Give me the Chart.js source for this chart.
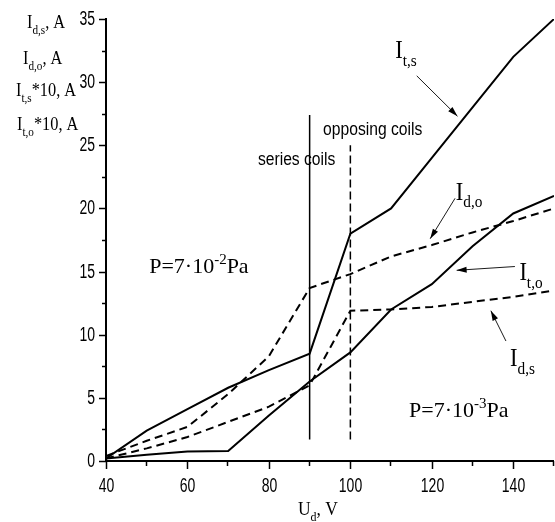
<!DOCTYPE html>
<html>
<head>
<meta charset="utf-8">
<script src="https://cdn.jsdelivr.net/npm/chart.js@4/dist/chart.umd.min.js"></script>
<style>
  html, body { margin: 0; padding: 0; background: #fff; }
  canvas { display: block; }
</style>
</head>
<body>
<canvas id="chart" width="555" height="522"></canvas>
<script>
(() => {
  'use strict';

  // discharge voltage, V
  const U = [40, 50, 60, 70, 80, 90, 100, 110, 120, 130, 140, 150];

  // currents
  const I_ts = [0.2, 2.4, 4.1, 5.8, 7.2, 8.5, 18.0, 20.0, 24.0, 28.0, 32.0, 35.0];
  const I_to = [0.2, 0.5, 0.75, 0.8, 3.6, 6.3, 8.6, 12.0, 14.0, 17.0, 19.6, 21.0];
  const I_do = [0.4, 1.6, 2.7, 5.3, 8.3, 13.7, 14.8, 16.2, 17.1, 18.1, 19.0, 20.0];
  const I_ds = [0.2, 1.0, 1.9, 3.1, 4.3, 6.0, 11.9, 12.0, 12.2, 12.6, 13.0, 13.5];

  // marker lines: coils switched
  const SERIES_X = [90, 90];
  const SERIES_Y = [1.7, 27.4];
  const OPPOSING_X = [100, 100];
  const OPPOSING_Y = [1.7, 25.0];

  const X_TICKS = [40, 60, 80, 100, 120, 140];
  const X_MINOR = [50, 70, 90, 110, 130, 150];
  const Y_TICKS = [0, 5, 10, 15, 20, 25, 30, 35];
  const Y_MINOR = [2.5, 7.5, 12.5, 17.5, 22.5, 27.5, 32.5];

  const SERIF = '"Liberation Serif", "Times New Roman", serif';
  const SANS = '"Liberation Sans", Arial, sans-serif';

  const pts = (xs, ys) => xs.map((x, i) => ({ x, y: ys[i] }));

  // rich text: [text, 'n' | 'sub' | 'sup'], sx = horizontal squeeze
  function rich(ctx, parts, x, y, size, sx = 1) {
    ctx.save();
    ctx.translate(x, y);
    ctx.scale(sx, 1);
    let cx = 0;
    parts.forEach(([t, mode]) => {
      const s = mode === 'n' ? size : Math.round(size * 0.68);
      const dy = mode === 'sub' ? size * 0.3 : mode === 'sup' ? -size * 0.42 : 0;
      ctx.font = `${s}px ${SERIF}`;
      ctx.fillText(t, cx, dy);
      cx += ctx.measureText(t).width;
    });
    ctx.restore();
  }

  function narrow(ctx, text, x, y, size, sx, align) {
    ctx.save();
    ctx.font = `${size}px ${SANS}`;
    ctx.textAlign = align || 'left';
    ctx.translate(x, y);
    ctx.scale(sx, 1);
    ctx.fillText(text, 0, 0);
    ctx.restore();
  }

  function arrow(ctx, x1, y1, x2, y2) {
    const a = Math.atan2(y2 - y1, x2 - x1);
    ctx.beginPath();
    ctx.lineWidth = 0.9;
    ctx.moveTo(x1, y1);
    ctx.lineTo(x2, y2);
    ctx.stroke();
    ctx.beginPath();
    ctx.moveTo(x2, y2);
    ctx.lineTo(x2 - 10 * Math.cos(a) + 3 * Math.sin(a), y2 - 10 * Math.sin(a) - 3 * Math.cos(a));
    ctx.lineTo(x2 - 10 * Math.cos(a) - 3 * Math.sin(a), y2 - 10 * Math.sin(a) + 3 * Math.cos(a));
    ctx.closePath();
    ctx.fill();
  }

  // labels and arrows, in data coordinates
  const CURVE_LABELS = [
    { sub: 't,s', at: [111.0, 31.9], from: [116.3, 30.5], to: [126.3, 27.3] },
    { sub: 'd,o', at: [125.9, 20.7], from: [125.7, 20.8], to: [119.6, 17.6] },
    { sub: 't,o', at: [141.5, 14.3], from: [140.4, 15.4], to: [126.1, 15.1] },
    { sub: 'd,s', at: [139.2, 7.5], from: [138.2, 9.5], to: [134.5, 11.9] },
  ];

  const axesPlugin = {
    id: 'axes',
    afterDraw(chart) {
      const { ctx, chartArea: ca, scales: { x, y } } = chart;
      ctx.save();
      ctx.fillStyle = '#000';
      ctx.strokeStyle = '#000';
      ctx.textBaseline = 'alphabetic';

      // axis lines
      ctx.lineWidth = 2;
      ctx.beginPath();
      ctx.moveTo(ca.left, y.getPixelForValue(35) - 1);
      ctx.lineTo(ca.left, ca.bottom);
      ctx.lineTo(x.getPixelForValue(150), ca.bottom);
      ctx.stroke();

      ctx.lineWidth = 1.5;
      Y_TICKS.forEach(v => {
        const py = Math.round(y.getPixelForValue(v)) + 0.5;
        ctx.beginPath(); ctx.moveTo(ca.left - 7, py); ctx.lineTo(ca.left, py); ctx.stroke();
        ctx.textBaseline = 'middle';
        narrow(ctx, String(v), ca.left - 11, py, 20, 0.7, 'right');
      });
      Y_MINOR.forEach(v => {
        const py = Math.round(y.getPixelForValue(v)) + 0.5;
        ctx.beginPath(); ctx.moveTo(ca.left - 4, py); ctx.lineTo(ca.left, py); ctx.stroke();
      });
      ctx.textBaseline = 'alphabetic';
      X_TICKS.forEach(v => {
        const px = Math.round(x.getPixelForValue(v)) + 0.5;
        ctx.beginPath(); ctx.moveTo(px, ca.bottom); ctx.lineTo(px, ca.bottom + 8); ctx.stroke();
        narrow(ctx, String(v), px, ca.bottom + 31, 20, 0.7, 'center');
      });
      X_MINOR.forEach(v => {
        const px = Math.round(x.getPixelForValue(v)) - 0.5;
        ctx.beginPath(); ctx.moveTo(px, ca.bottom); ctx.lineTo(px, ca.bottom + 5); ctx.stroke();
      });

      // axis titles
      ctx.textAlign = 'left';
      rich(ctx, [['U', 'n'], ['d', 'sub'], [', V', 'n']], 298, 515, 19, 0.92);
      rich(ctx, [['I', 'n'], ['d,s', 'sub'], [', A', 'n']], 27, 28, 19, 0.86);
      rich(ctx, [['I', 'n'], ['d,o', 'sub'], [', A', 'n']], 23, 64, 19, 0.86);
      rich(ctx, [['I', 'n'], ['t,s', 'sub'], ['*10, A', 'n']], 16, 96, 19, 0.86);
      rich(ctx, [['I', 'n'], ['t,o', 'sub'], ['*10, A', 'n']], 17, 130, 19, 0.86);

      // coil markers
      ctx.textBaseline = 'middle';
      narrow(ctx, 'series coils', x.getPixelForValue(77.3), y.getPixelForValue(23.8), 18, 0.87);
      narrow(ctx, 'opposing coils', x.getPixelForValue(93.3), y.getPixelForValue(26.2), 18, 0.87);
      ctx.textBaseline = 'alphabetic';

      // pressures
      rich(ctx, [['P=7·10', 'n'], ['-2', 'sup'], ['Pa', 'n']],
        x.getPixelForValue(50.6), y.getPixelForValue(14.9), 22);
      rich(ctx, [['P=7·10', 'n'], ['-3', 'sup'], ['Pa', 'n']],
        x.getPixelForValue(114.4), y.getPixelForValue(3.5), 22);

      // curve labels
      CURVE_LABELS.forEach(l => {
        rich(ctx, [['I', 'n'], [l.sub, 'sub']], x.getPixelForValue(l.at[0]), y.getPixelForValue(l.at[1]), 25, 0.9);
        arrow(ctx, x.getPixelForValue(l.from[0]), y.getPixelForValue(l.from[1]),
          x.getPixelForValue(l.to[0]), y.getPixelForValue(l.to[1]));
      });
      ctx.restore();
    },
  };

  const solid = (data, w) => ({ data, borderColor: '#000', borderWidth: w, pointRadius: 0, tension: 0, fill: false });
  const dashed = (data, w, dash) => ({ ...solid(data, w), borderDash: dash });

  new Chart(document.getElementById('chart'), {
    type: 'line',
    data: {
      datasets: [
        solid(pts(U, I_ts), 2),
        solid(pts(U, I_to), 2),
        dashed(pts(U, I_do), 2, [8, 5]),
        dashed(pts(U, I_ds), 2, [8, 5]),
        solid(pts(SERIES_X, SERIES_Y), 1.5),
        dashed(pts(OPPOSING_X, OPPOSING_Y), 1.5, [8, 4]),
      ],
    },
    options: {
      responsive: false,
      animation: false,
      devicePixelRatio: 1,
      layout: { padding: { left: 106, right: 1, top: 19, bottom: 61 } },
      plugins: { legend: { display: false }, tooltip: { enabled: false } },
      scales: {
        x: { type: 'linear', min: 40, max: 150, display: false },
        y: { min: 0, max: 35, display: false },
      },
    },
    plugins: [axesPlugin],
  });
})();
</script>
</body>
</html>
